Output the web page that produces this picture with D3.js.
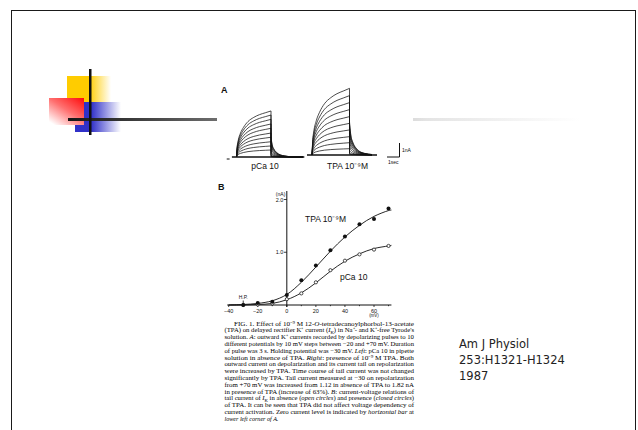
<!DOCTYPE html>
<html>
<head>
<meta charset="utf-8">
<script src="https://cdn.jsdelivr.net/npm/d3@7"></script>
<style>
  html, body { margin: 0; padding: 0; background: #fff; }
  svg { display: block; }
</style>
</head>
<body>
<div id="chart"></div>
<script>
// Panel B: tail current (nA) vs test potential (mV)
const voltages = [-30, -20, -10, 0, 10, 20, 30, 40, 50, 60, 70];
const tpaTail = [0, 0.04, 0.06, 0.19, 0.47, 0.75, 1.04, 1.30, 1.53, 1.63, 1.83];
const pcaTail = [0, 0.01, 0.03, 0.11, 0.22, 0.43, 0.66, 0.84, 0.96, 1.05, 1.12];
// fitted curves
const fitVoltages = [-40, -30, -20, -10, 0, 10, 20, 30, 40, 50, 60, 70, 72];
const tpaFit = [0, 0.01, 0.03, 0.08, 0.2, 0.43, 0.72, 1.02, 1.29, 1.51, 1.68, 1.79, 1.8];
const pcaFit = [0, 0, 0.01, 0.03, 0.1, 0.23, 0.42, 0.64, 0.83, 0.97, 1.07, 1.12, 1.13];
const xTicks = [-40, -20, 0, 20, 40, 60];
const yTicks = [1.0, 2.0];

// Panel A: current traces for steps from -20 to +70 mV
const stepVoltages = [-20, -10, 0, 10, 20, 30, 40, 50, 60, 70];
const pcaStep = [0.5, 0.79, 1.09, 1.41, 1.71, 2.05, 2.36, 2.69, 3.0, 3.29];
const tpaStep = [0.45, 0.88, 1.31, 1.79, 2.26, 2.74, 3.24, 3.74, 4.24, 4.76];
const pcaTailPeak = [0.03, 0.06, 0.14, 0.28, 0.48, 0.72, 0.95, 1.15, 1.32, 1.43];
const tpaTailPeak = [0.05, 0.14, 0.32, 0.62, 0.96, 1.3, 1.65, 1.95, 2.2, 2.36];
// normalised time courses (s)
const activationTime = [0, 0.05, 0.15, 0.35, 0.6, 1.0, 1.5, 2.0, 2.5, 3.0];
const activationShape = [0, 0.2, 0.36, 0.52, 0.64, 0.77, 0.86, 0.92, 0.96, 1.0];
const tailTime = [0, 0.1, 0.25, 0.5, 0.8, 1.2, 1.8, 2.8];
const tailShape = [1, 0.62, 0.4, 0.22, 0.11, 0.05, 0.015, 0];

const caption = [
  'FIG. 1. Effect of 10⁻⁹ M 12-*O*-tetradecanoylphorbol-13-acetate',
  '(TPA) on delayed rectifier K⁺ current (*I*~K~) in Na⁺- and K⁺-free Tyrode\'s',
  'solution. *A*: outward K⁺ currents recorded by depolarizing pulses to 10',
  'different potentials by 10 mV steps between −20 and +70 mV. Duration',
  'of pulse was 3 s. Holding potential was −30 mV. *Left*: pCa 10 in pipette',
  'solution in absence of TPA. *Right*: presence of 10⁻⁹ M TPA. Both',
  'outward current on depolarization and its current tail on repolarization',
  'were increased by TPA. Time course of tail current was not changed',
  'significantly by TPA. Tail current measured at −30 on repolarization',
  'from +70 mV was increased from 1.12 in absence of TPA to 1.82 nA',
  'in presence of TPA (increase of 63%). *B*: current-voltage relations of',
  'tail current of *I*~K~ in absence (*open circles*) and presence (*closed circles*)',
  'of TPA. It can be seen that TPA did not affect voltage dependency of',
  'current activation. Zero current level is indicated by *horizontal bar* at',
  '*lower left corner of A.*'
];
const citation = ['Am J Physiol', '253:H1321-H1324', '1987'];

const W = 638, H = 430;
const svg = d3.select('#chart').append('svg')
  .attr('width', W)
  .attr('height', H);

const defs = svg.append('defs');

function hGradient(id, stops, attrs) {
  const g = defs.append('linearGradient').attr('id', id);
  Object.keys(attrs || {}).forEach(k => g.attr(k, attrs[k]));
  stops.forEach(s => g.append('stop').attr('offset', s[0]).attr('stop-color', s[1]));
}

hGradient('gYellow', [[0, '#ffcc00'], [0.5, '#ffcc00'], [1, '#ffffff']]);
hGradient('gBlue', [[0, '#3030c8'], [0.35, '#3030c8'], [1, '#ffffff']]);
hGradient('gRed', [[0, '#ff0a0a'], [0.5, '#ff7070'], [1, '#ffffff']],
  { x1: 1, y1: 0, x2: 0.15, y2: 1 });
hGradient('gBar', [[0, '#151515'], [0.3, '#707070'], [0.7, '#e4e4e4'], [1, '#ffffff']],
  { gradientUnits: 'userSpaceOnUse', x1: 68, y1: 0, x2: 580, y2: 0 });

// slide frame
svg.append('rect')
  .attr('x', 11.5).attr('y', 10.5)
  .attr('width', 624).attr('height', 440)
  .attr('fill', 'none')
  .attr('stroke', '#1a1a1a')
  .attr('stroke-width', 1);

// title decoration
const deco = svg.append('g');
deco.append('rect').attr('x', 67).attr('y', 76).attr('width', 44).attr('height', 26).attr('fill', 'url(#gYellow)');
deco.append('rect').attr('x', 75).attr('y', 102).attr('width', 46).attr('height', 30).attr('fill', 'url(#gBlue)');
deco.append('rect').attr('x', 49).attr('y', 98).attr('width', 35).attr('height', 27).attr('fill', 'url(#gRed)');
deco.append('rect').attr('x', 68).attr('y', 118).attr('width', 512).attr('height', 3).attr('fill', 'url(#gBar)');
deco.append('rect').attr('x', 89).attr('y', 69).attr('width', 2.5).attr('height', 66).attr('fill', '#111');

// figure background (scanned page)
svg.append('rect')
  .attr('x', 217).attr('y', 78)
  .attr('width', 196).attr('height', 352)
  .attr('fill', '#fff');

const ink = '#111';
const sans = 'Liberation Sans, Arial, sans-serif';

// ---------- Panel A ----------
svg.append('text')
  .attr('x', 221).attr('y', 93)
  .attr('font-family', sans).attr('font-weight', 'bold')
  .attr('font-size', 9).attr('fill', ink)
  .text('A');

const yA = d3.scaleLinear().domain([0, 1]).range([0, -14]);

function drawTraces(x0, x1, baseY, steps, tails, tEnd, label, labelX) {
  const xT = d3.scaleLinear().domain([0, 3]).range([x0, x1]);
  const g = svg.append('g').attr('transform', `translate(0,${baseY})`);
  const act = d3.line().x(d => xT(d[0])).y(d => yA(d[1])).curve(d3.curveMonotoneX);
  const tail = d3.line().x(d => xT(3 + d[0])).y(d => yA(d[1])).curve(d3.curveMonotoneX);

  // holding level
  g.append('line')
    .attr('x1', xT(-0.4)).attr('x2', xT(3 + tEnd))
    .attr('y1', 0).attr('y2', 0)
    .attr('stroke', ink).attr('stroke-width', 1.4);
  // zero current bar
  g.append('line')
    .attr('x1', xT(-0.85)).attr('x2', xT(-0.6))
    .attr('y1', 2).attr('y2', 2)
    .attr('stroke', ink).attr('stroke-width', 1);

  steps.forEach((amp, i) => {
    const aPts = activationTime.map((t, k) => [t, amp * activationShape[k]]);
    const tPts = tailTime.filter(t => t <= tEnd).map((t, k) => [t, tails[i] * tailShape[k]]);
    g.append('path').attr('d', act(aPts))
      .attr('fill', 'none').attr('stroke', ink).attr('stroke-width', 0.75);
    g.append('line')
      .attr('x1', xT(3)).attr('x2', xT(3))
      .attr('y1', yA(amp)).attr('y2', yA(tails[i]))
      .attr('stroke', ink).attr('stroke-width', 0.75);
    g.append('path').attr('d', tail(tPts))
      .attr('fill', 'none').attr('stroke', ink).attr('stroke-width', 0.75);
  });

  svg.append('text')
    .attr('x', labelX).attr('y', 169)
    .attr('text-anchor', 'middle')
    .attr('font-family', sans).attr('font-size', 8.5).attr('fill', ink)
    .text(label);
  return xT;
}

drawTraces(236.5, 271, 157, pcaStep, pcaTailPeak, 2.8, 'pCa 10', 265);
const xTpa = drawTraces(312, 349.5, 155, tpaStep, tpaTailPeak, 2.2, 'TPA 10⁻⁹M', 347.5);

// scale bar: 1 nA, 1 s
const sb = svg.append('g').attr('stroke', ink).attr('stroke-width', 1);
const sbX = 399.5, sbY = 157;
const sbW = xTpa(1) - xTpa(0);
sb.append('line').attr('x1', sbX).attr('x2', sbX).attr('y1', sbY).attr('y2', sbY + yA(1));
sb.append('line').attr('x1', sbX - sbW).attr('x2', sbX).attr('y1', sbY).attr('y2', sbY);
svg.append('text').attr('x', 402).attr('y', 152)
  .attr('font-family', sans).attr('font-size', 5).attr('fill', ink).text('1nA');
svg.append('text').attr('x', 388).attr('y', 164)
  .attr('font-family', sans).attr('font-size', 5).attr('fill', ink).text('1sec');

// ---------- Panel B ----------
svg.append('text')
  .attr('x', 218).attr('y', 190)
  .attr('font-family', sans).attr('font-weight', 'bold')
  .attr('font-size', 9).attr('fill', ink)
  .text('B');

const x = d3.scaleLinear().domain([-40, 60]).range([228.7, 374]);
const y = d3.scaleLinear().domain([0, 2]).range([305, 199.5]);
const gB = svg.append('g');

// axes
gB.append('line')
  .attr('x1', x(-41)).attr('x2', x(72))
  .attr('y1', y(0)).attr('y2', y(0))
  .attr('stroke', ink).attr('stroke-width', 1);
gB.append('line')
  .attr('x1', x(0)).attr('x2', x(0))
  .attr('y1', 191).attr('y2', y(0) + 2)
  .attr('stroke', ink).attr('stroke-width', 1);
gB.selectAll('.xt').data(d3.range(-40, 71, 10)).enter().append('line')
  .attr('x1', d => x(d)).attr('x2', d => x(d))
  .attr('y1', y(0)).attr('y2', d => y(0) + (d % 20 === 0 ? 2 : 1.2))
  .attr('stroke', ink).attr('stroke-width', 0.8);
gB.selectAll('.xl').data(xTicks).enter().append('text')
  .attr('x', d => x(d)).attr('y', y(0) + 7.5)
  .attr('text-anchor', 'middle')
  .attr('font-family', sans).attr('font-size', 5.5).attr('fill', ink)
  .text(d => (d < 0 ? '−' + Math.abs(d) : d));
gB.append('text').attr('x', x(60)).attr('y', y(0) + 12)
  .attr('text-anchor', 'middle')
  .attr('font-family', sans).attr('font-size', 4.5).attr('fill', ink)
  .text('(mV)');

gB.selectAll('.yt').data(yTicks).enter().append('line')
  .attr('x1', x(0) - 3).attr('x2', x(0))
  .attr('y1', d => y(d)).attr('y2', d => y(d))
  .attr('stroke', ink).attr('stroke-width', 0.8);
gB.selectAll('.yl').data(yTicks).enter().append('text')
  .attr('x', x(0) - 3.5).attr('y', d => y(d) + 2)
  .attr('text-anchor', 'end')
  .attr('font-family', sans).attr('font-size', 5.5).attr('fill', ink)
  .text(d => d.toFixed(1));
gB.append('text').attr('x', x(0) - 1.5).attr('y', 196)
  .attr('text-anchor', 'end')
  .attr('font-family', sans).attr('font-size', 5).attr('fill', ink)
  .text('(nA)');

// holding potential mark
gB.append('text').attr('x', x(-30)).attr('y', 299)
  .attr('text-anchor', 'middle')
  .attr('font-family', sans).attr('font-size', 5).attr('fill', ink)
  .text('H.P.');
gB.append('line')
  .attr('x1', x(-30)).attr('x2', x(-30))
  .attr('y1', 300.5).attr('y2', 303)
  .attr('stroke', ink).attr('stroke-width', 0.8);

// fitted curves
const fitLine = d3.line().x(d => x(d[0])).y(d => y(d[1])).curve(d3.curveCatmullRom);
[tpaFit, pcaFit].forEach(arr => {
  gB.append('path')
    .attr('d', fitLine(fitVoltages.map((v, i) => [v, arr[i]])))
    .attr('fill', 'none').attr('stroke', ink).attr('stroke-width', 0.9);
});

// data points
gB.selectAll('.pca').data(voltages.map((v, i) => [v, pcaTail[i]])).enter().append('circle')
  .attr('cx', d => x(d[0])).attr('cy', d => y(d[1])).attr('r', 1.6)
  .attr('fill', '#fff').attr('stroke', ink).attr('stroke-width', 0.75);
gB.selectAll('.tpa').data(voltages.map((v, i) => [v, tpaTail[i]])).enter().append('circle')
  .attr('cx', d => x(d[0])).attr('cy', d => y(d[1])).attr('r', 2)
  .attr('fill', ink);

gB.append('text').attr('x', 305).attr('y', 222)
  .attr('font-family', sans).attr('font-size', 8.5).attr('fill', ink)
  .text('TPA 10⁻⁹M');
gB.append('text').attr('x', 340).attr('y', 280)
  .attr('font-family', sans).attr('font-size', 8.5).attr('fill', ink)
  .text('pCa 10');

// ---------- Caption ----------
const capG = svg.append('g')
  .attr('font-family', 'Liberation Serif, Times New Roman, serif')
  .attr('font-size', 6.1)
  .attr('fill', '#000');

caption.forEach((line, i) => {
  const left = i === 0 ? 234 : 224.5;
  const t = capG.append('text')
    .attr('x', left)
    .attr('y', 325.5 + i * 6.8);
  if (i < caption.length - 1) {
    t.attr('textLength', 414 - left).attr('lengthAdjust', 'spacingAndGlyphs');
  }
  let italic = false, sub = false, shifted = false;
  line.split(/([*~])/).forEach(part => {
    if (part === '*') { italic = !italic; return; }
    if (part === '~') { sub = !sub; return; }
    if (!part) return;
    const ts = t.append('tspan').text(part);
    if (italic) ts.attr('font-style', 'italic');
    if (sub) {
      ts.attr('font-size', 4.3).attr('dy', 1.2);
      shifted = true;
    } else if (shifted) {
      ts.attr('dy', -1.2);
      shifted = false;
    }
  });
});

// ---------- Citation ----------
svg.append('g')
  .attr('font-family', 'DejaVu Sans, Verdana, sans-serif')
  .attr('font-size', 11.5)
  .attr('fill', '#222')
  .selectAll('text').data(citation).enter().append('text')
  .attr('x', 459)
  .attr('y', (d, i) => 348 + i * 16)
  .text(d => d);
</script>
</body>
</html>
